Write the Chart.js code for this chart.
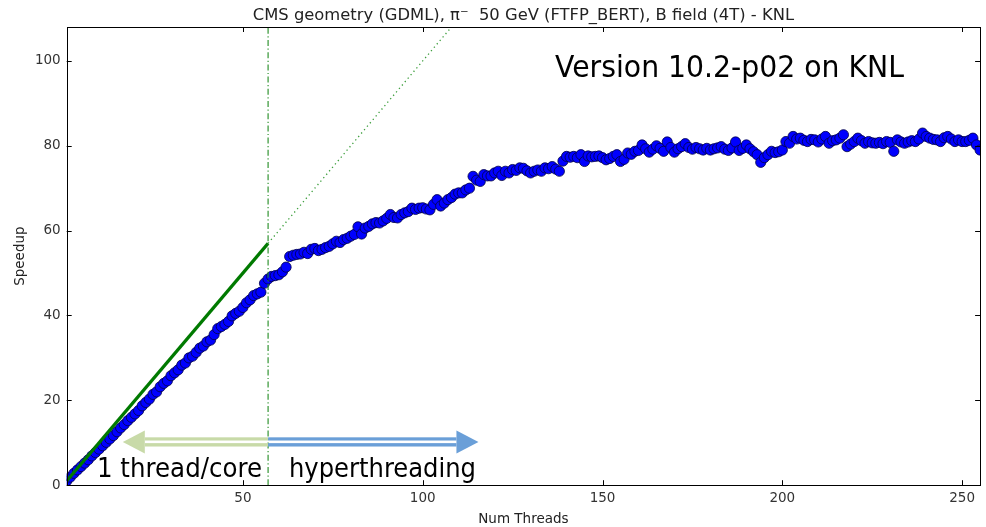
<!DOCTYPE html>
<html>
<head>
<meta charset="utf-8">
<script src="https://cdn.jsdelivr.net/npm/chart.js@4.4.1/dist/chart.umd.min.js"></script>
<style>
  html, body { margin: 0; padding: 0; background: #fff; }
  #wrap { width: 986px; height: 527px; position: relative; }
</style>
</head>
<body>
<div id="wrap"><canvas id="c" width="986" height="527"></canvas></div>
<script>
// ---------- data ----------
const titleText = "CMS geometry (GDML), \u03c0\u207b  50 GeV (FTFP_BERT), B field (4T) - KNL";
const xLabel = "Num Threads";
const yLabel = "Speedup";
const xTicks = [50, 100, 150, 200, 250];
const yTicks = [0, 20, 40, 60, 80, 100];
const physicalCores = 57;
const threads = Array.from({length: 256}, (_, i) => i + 1);
const speedup = [
  1.0,1.9,2.8,3.6,4.4,5.2,6.0,6.9,7.7,8.5,
  9.3,10.1,10.9,11.7,12.6,13.5,14.3,15.2,16.0,16.8,
  17.6,18.7,19.5,20.3,21.4,22.0,23.2,24.0,24.6,25.8,
  26.5,27.2,28.3,28.8,30.0,30.4,31.3,32.3,32.8,33.8,
  34.2,35.5,36.9,37.4,37.9,38.6,39.9,40.5,41.0,41.9,
  43.0,43.7,44.7,45.1,45.5,47.6,48.6,49.2,49.4,49.6,
  50.3,51.4,53.9,54.2,54.4,54.5,54.9,54.6,55.6,55.8,
  55.3,55.6,56.0,56.3,56.9,57.5,57.2,57.9,58.2,58.7,
  59.1,60.9,59.2,60.6,61.0,61.6,61.9,61.8,62.3,62.9,
  63.8,63.1,63.0,63.8,64.2,64.5,65.3,65.0,65.3,65.4,
  65.1,64.9,66.2,67.3,65.8,66.5,67.3,67.8,68.6,68.9,
  68.9,69.6,70.0,72.8,71.9,71.6,73.2,72.9,72.9,73.6,
  74.0,73.0,74.0,73.6,74.4,74.2,74.8,74.7,74.1,73.6,
  74.0,74.3,74.0,74.8,74.6,75.1,74.5,74.0,76.4,77.5,
  77.3,77.5,77.2,77.9,76.3,77.6,77.4,77.5,77.6,77.2,
  76.7,77.0,77.5,77.9,76.3,76.8,78.3,78.0,78.7,78.9,
  80.2,79.3,78.5,79.2,80.0,79.4,78.7,80.9,79.6,78.5,
  79.3,79.8,80.5,79.6,79.2,79.6,79.3,79.0,79.4,79.0,
  79.3,79.5,79.8,79.2,78.9,79.5,80.9,78.9,79.4,80.2,
  79.3,78.6,77.9,76.1,77.2,77.9,78.7,78.4,78.6,79.0,
  81.0,80.6,82.2,81.6,81.8,81.3,81.0,81.5,81.4,80.9,
  81.6,82.2,80.6,81.2,81.4,81.8,82.6,79.8,80.4,81.0,
  81.8,81.2,80.6,81.0,80.7,80.6,80.8,80.5,81.0,80.8,
  78.7,81.4,80.9,80.6,80.9,81.2,81.0,81.6,83.0,82.2,
  81.8,81.5,81.4,81.0,81.9,82.2,81.6,81.0,81.4,81.0,
  81.0,81.3,81.8,80.2,79.0,79.6
];
const xRange = [1, 255];
const yRange = [0, 108];
const idealEnd = 120;
const arrowY = 10.2;
const leftArrowTip = 16.6;
const rightArrowTip = 115.5;

// ---------- chart ----------
const points = threads.map((t, i) => ({x: t, y: speedup[i]}));

const decor = {
  id: 'decor',
  beforeDraw(chart) {
    const ctx = chart.ctx;
    ctx.save();
    ctx.fillStyle = '#fff';
    ctx.fillRect(0, 0, chart.width, chart.height);
    ctx.restore();
  },
  afterDatasetsDraw(chart) {
    const ctx = chart.ctx;
    const xs = chart.scales.x, ys = chart.scales.y;
    const x0 = xs.getPixelForValue(physicalCores);
    const yA = ys.getPixelForValue(arrowY);

    function arrow(from, tip, color) {
      const dir = Math.sign(tip - from);
      const headLen = 22, headHalf = 11.5;
      const base = tip - dir * headLen;
      ctx.save();
      ctx.fillStyle = color;
      const a = Math.min(from, base), b = Math.max(from, base);
      ctx.fillRect(a, yA - 4.6, b - a, 3.2);
      ctx.fillRect(a, yA + 1.2, b - a, 3.4);
      ctx.beginPath();
      ctx.moveTo(tip, yA);
      ctx.lineTo(base, yA - headHalf);
      ctx.lineTo(base, yA + headHalf);
      ctx.closePath();
      ctx.fill();
      ctx.restore();
    }
    arrow(x0, xs.getPixelForValue(leftArrowTip), '#c8daa8');
    arrow(x0, xs.getPixelForValue(rightArrowTip), '#6a9fd8');

    function fitText(txt, left, baseline, size, width) {
      ctx.save();
      ctx.font = size + "px 'DejaVu Sans'";
      const w = ctx.measureText(txt).width;
      ctx.translate(left, baseline);
      ctx.scale(width / w, 1);
      ctx.fillStyle = '#000';
      ctx.textBaseline = 'alphabetic';
      ctx.textAlign = 'left';
      ctx.fillText(txt, 0, 0);
      ctx.restore();
    }
    fitText("1 thread/core", 97, 477, 27, 165);
    fitText("hyperthreading", 289, 477, 27, 187);
    fitText("Version 10.2-p02 on KNL", 555, 77, 31, 349);
  },
  afterDraw(chart) {
    const ctx = chart.ctx;
    const xs = chart.scales.x, ys = chart.scales.y;
    const ca = chart.chartArea;
    ctx.save();
    ctx.strokeStyle = '#000';
    ctx.lineWidth = 1;
    ctx.strokeRect(Math.round(ca.left) + 0.5, Math.round(ca.top) + 0.5,
                   Math.round(ca.right - ca.left), Math.round(ca.bottom - ca.top));
    ctx.beginPath();
    const tl = 5;
    xTicks.forEach(v => {
      const p = Math.round(xs.getPixelForValue(v)) + 0.5;
      ctx.moveTo(p, ca.bottom); ctx.lineTo(p, ca.bottom - tl);
      ctx.moveTo(p, ca.top); ctx.lineTo(p, ca.top + tl);
    });
    yTicks.forEach(v => {
      const p = Math.round(ys.getPixelForValue(v)) + 0.5;
      ctx.moveTo(ca.left, p); ctx.lineTo(ca.left + tl, p);
      ctx.moveTo(ca.right, p); ctx.lineTo(ca.right - tl, p);
    });
    ctx.stroke();

    ctx.fillStyle = '#222';
    ctx.font = "14px 'DejaVu Sans'";
    const tw = ctx.measureText(titleText).width;
    const ts = 14 * 542 / tw;
    ctx.font = ts.toFixed(2) + "px 'DejaVu Sans'";
    ctx.textAlign = 'center';
    ctx.textBaseline = 'alphabetic';
    ctx.fillText(titleText, (ca.left + ca.right) / 2, 20);

    ctx.font = "13.5px 'DejaVu Sans'";
    ctx.fillText(xLabel, (ca.left + ca.right) / 2, 523);
    ctx.save();
    ctx.translate(24, (ca.top + ca.bottom) / 2);
    ctx.rotate(-Math.PI / 2);
    ctx.fillText(yLabel, 0, 0);
    ctx.restore();
    ctx.restore();
  }
};

new Chart(document.getElementById('c'), {
  type: 'scatter',
  data: {
    datasets: [
      {
        label: 'speedup',
        data: points,
        showLine: false,
        pointRadius: 5.1,
        pointHoverRadius: 5.1,
        pointBackgroundColor: '#0000ff',
        pointBorderColor: '#000044',
        pointBorderWidth: 0.8,
        order: 4
      },
      {
        label: 'ideal',
        data: [{x: 1, y: 1}, {x: physicalCores, y: physicalCores}],
        showLine: true,
        borderColor: '#007a00',
        borderWidth: 3.2,
        pointRadius: 0,
        order: 3
      },
      {
        label: 'ideal extrapolated',
        data: [{x: physicalCores, y: physicalCores}, {x: idealEnd, y: idealEnd}],
        showLine: true,
        borderColor: '#3c9e3c',
        borderWidth: 1.3,
        borderDash: [1.3, 3.2],
        pointRadius: 0,
        order: 2
      },
      {
        label: 'cores',
        data: [{x: physicalCores, y: yRange[0]}, {x: physicalCores, y: yRange[1]}],
        showLine: true,
        borderColor: '#1f8a1f',
        borderWidth: 1.1,
        borderDash: [6, 2.5, 1.2, 2.5],
        pointRadius: 0,
        order: 1
      }
    ]
  },
  options: {
    responsive: false,
    animation: false,
    events: [],
    layout: { padding: { top: 27, right: 4.3, left: 0, bottom: 0 } },
    plugins: {
      legend: { display: false },
      title: { display: false },
      tooltip: { enabled: false }
    },
    scales: {
      x: {
        type: 'linear',
        min: xRange[0], max: xRange[1],
        grid: { display: false, drawTicks: false },
        border: { display: false },
        afterBuildTicks: s => { s.ticks = xTicks.map(v => ({value: v})); },
        afterFit: s => { s.height = 41.8; },
        ticks: {
          padding: 5,
          color: '#333',
          font: { family: 'DejaVu Sans', size: 13.5 },
          maxRotation: 0,
          autoSkip: false
        }
      },
      y: {
        type: 'linear',
        min: yRange[0], max: yRange[1],
        grid: { display: false, drawTicks: false },
        border: { display: false },
        afterBuildTicks: s => { s.ticks = yTicks.map(v => ({value: v})); },
        afterFit: s => { s.width = 66.7; },
        ticks: {
          padding: 6,
          color: '#333',
          font: { family: 'DejaVu Sans', size: 13.5 },
          autoSkip: false
        }
      }
    }
  },
  plugins: [decor]
});
</script>
</body>
</html>
